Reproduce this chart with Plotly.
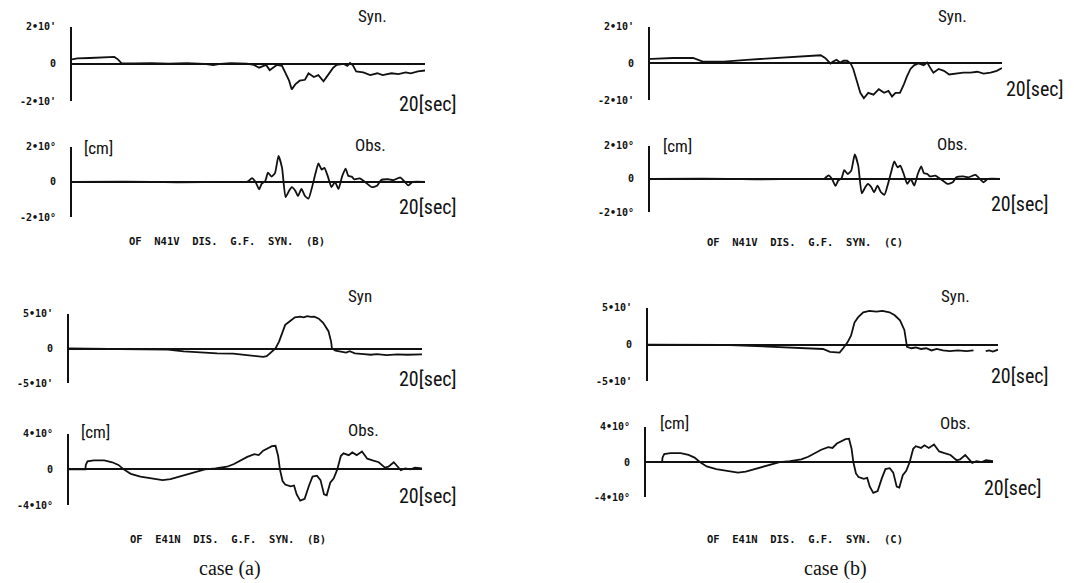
import plotly.graph_objects as go

# ---------------- data ----------------
# time axis: 0 .. 20 sec
# N41V synthetic, case (a)
syn_n41v_a_t = [0, 0.3, 1.0, 1.8, 2.4, 2.6, 2.8, 3.5, 4.5, 5.5, 6.5, 7.5, 8.0, 8.4, 9.0, 9.9,
                10.3, 10.6, 10.85, 11.0, 11.2, 11.4, 11.6, 11.9, 12.1, 12.3, 12.45, 12.65, 12.9, 13.2,
                13.4, 13.7, 13.96, 14.25, 14.5, 14.8, 15.0, 15.4, 15.6, 15.75, 15.9, 16.1, 16.5, 16.9,
                17.3, 17.6, 18.1, 18.5, 18.9, 19.2, 19.6, 20.0]
syn_n41v_a_y = [0.25, 0.3, 0.32, 0.35, 0.38, 0.25, 0.05, 0.03, 0.05, 0.02, 0.04, 0.0, -0.06, 0.0, 0.05, 0.02,
                -0.05, -0.2, -0.1, -0.05, -0.33, -0.2, -0.05, -0.1, -0.5, -0.9, -1.38, -1.1, -0.9, -0.85,
                -0.5, -0.7, -0.6, -0.93, -0.6, -0.2, -0.05, 0.0, -0.1, 0.05, -0.05, -0.4, -0.45, -0.6,
                -0.5, -0.6, -0.5, -0.55, -0.45, -0.5, -0.4, -0.35]

# N41V synthetic, case (b)
syn_n41v_b_t = [0, 0.1, 1.3, 2.45, 3.0, 4.2, 5.5, 7.0, 8.15, 9.3, 9.7, 9.95, 10.25, 10.4, 10.6, 10.8,
                11.0, 11.2, 11.4, 11.55, 11.75, 11.95, 12.15, 12.4, 12.7, 13.0, 13.3, 13.55, 13.75, 13.95,
                14.2, 14.4, 14.6, 14.8, 15.0, 15.25, 15.55, 15.75, 15.9, 16.1, 16.4, 16.7, 17.0, 17.45,
                17.8, 18.2, 18.6, 18.95, 19.35, 19.7, 20.0]
syn_n41v_b_y = [0.25, 0.25, 0.3, 0.3, 0.1, 0.1, 0.2, 0.3, 0.35, 0.45, 0.45, 0.3, 0.0, 0.1, 0.2, 0.05,
                0.15, 0.15, 0.0, -0.3, -1.0, -1.6, -1.9, -1.6, -1.7, -1.4, -1.6, -1.5, -1.8, -1.6,
                -1.6, -1.2, -0.7, -0.3, -0.1, 0.0, -0.1, 0.05, -0.2, -0.5, -0.3, -0.4, -0.6, -0.55,
                -0.5, -0.5, -0.45, -0.55, -0.5, -0.4, -0.25]

# N41V observed (same record in both cases)
obs_n41v_t = [0, 3, 6, 9, 9.9, 10.0, 10.2, 10.4, 10.6, 10.75, 10.95, 11.1, 11.3, 11.5, 11.7,
              11.9, 12.1, 12.3, 12.45, 12.65, 12.8, 13.0, 13.2, 13.4, 13.6, 13.8, 13.96, 14.15, 14.3,
              14.5, 14.7, 14.9, 15.1, 15.3, 15.5, 15.65, 15.85, 16.0, 16.3, 16.6, 17.0, 17.3, 17.5,
              17.9, 18.2, 18.6, 18.9, 19.05, 19.3, 20.0]
obs_n41v_y = [0, 0.02, -0.02, 0.0, 0.0, 0.05, 0.22, 0.0, -0.42, -0.1, 0.05, 0.53, 0.3, 0.5, 1.48,
              0.8, -0.86, -0.5, -0.3, -0.5, -0.8, -0.4, -0.8, -0.95, -0.3, 0.5, 1.05, 0.7, 0.8,
              0.3, -0.3, 0.0, -0.4, 0.3, 0.76, 0.35, 0.3, 0.15, 0.2, 0.0, -0.3, -0.2, 0.1,
              0.15, 0.1, 0.25, -0.05, -0.2, 0.0, 0.0]

# E41N synthetic, case (a)
syn_e41n_a_t = [0, 2.0, 4.0, 5.6, 6.5, 7.45, 8.4, 9.3, 10.3, 11.0, 11.2, 11.5, 11.7, 11.9, 12.1, 12.25,
                12.55, 12.8, 13.1, 13.3, 13.5, 13.7, 13.9, 14.15, 14.4, 14.7, 14.85, 14.9, 15.1, 15.4,
                15.7, 15.9, 16.2, 16.7, 17.1, 17.45, 18.0, 18.6, 19.15, 20.0]
syn_e41n_a_y = [0, -0.03, -0.08, -0.15, -0.4, -0.6, -0.7, -0.75, -1.0, -1.2, -1.1, -0.5, 0.0, 1.0, 2.5, 3.4,
                4.0, 4.5, 4.6, 4.5, 4.65, 4.55, 4.6, 4.3, 3.7, 2.5, 1.0, 0.0, -0.3, -0.5,
                -0.6, -0.4, -0.7, -0.8, -0.9, -0.8, -0.95, -0.85, -0.9, -0.85]

# E41N synthetic, case (b)  (None = break in the trace)
syn_e41n_b_t = [0, 2.0, 4.3, 6.2, 8.1, 9.5, 10.0, 10.4, 10.95, 11.15, 11.4, 11.6, 11.8, 12.0, 12.3,
                12.65, 13.05, 13.4, 13.8, 14.1, 14.4, 14.65, 14.75, 14.8, 15.05, 15.3, 15.6, 15.9,
                16.2, 16.5, 16.85, 17.25, 17.7, 18.2, 18.6, 18.8, 19.3, 19.5, 19.7, 20.0]
syn_e41n_b_y = [0, 0.0, -0.05, -0.2, -0.4, -0.55, -0.6, -1.0, -1.1, -0.5, 0.3, 1.2, 3.0, 3.7, 4.4,
                4.6, 4.5, 4.6, 4.4, 4.0, 3.3, 2.0, 0.5, -0.3, -0.5, -0.4, -0.6, -0.5,
                -0.8, -0.6, -0.8, -0.9, -0.8, -0.9, -0.8, None, -0.9, -0.8, -0.95, -0.7]

# E41N observed (same record in both cases)
obs_e41n_t = [0, 0.93, 0.95, 1.05, 1.4, 2.0, 2.45, 2.8, 3.1, 3.5, 4.05, 4.6, 5.3, 5.75, 6.3, 6.8,
              7.25, 7.7, 8.3, 8.95, 9.35, 9.7, 10.1, 10.5, 10.75, 11.0, 11.2, 11.5, 11.7, 11.85,
              11.95, 12.1, 12.25, 12.55, 12.75, 12.9, 13.1, 13.35, 13.6, 13.8, 14.05, 14.25, 14.45,
              14.6, 14.8, 15.0, 15.2, 15.4, 15.55, 15.85, 16.05, 16.3, 16.6, 16.9, 17.2, 17.55,
              17.9, 18.1, 18.4, 18.6, 18.8, 19.05, 19.35, 19.6, 20.0]
obs_e41n_y = [0, 0, 0.5, 0.9, 1.0, 1.0, 0.8, 0.5, 0.0, -0.5, -0.8, -1.0, -1.2, -1.1, -0.8, -0.5,
              -0.3, 0.0, 0.1, 0.3, 0.6, 1.0, 1.4, 1.7, 1.6, 2.1, 2.3, 2.6, 2.65, 1.5,
              0.0, -1.3, -1.7, -1.9, -1.8, -2.8, -3.5, -3.3, -1.8, -0.8, -0.7, -1.2, -2.8,
              -2.9, -1.5, -1.0, 0.0, 1.5, 1.8, 1.6, 1.9, 1.6, 2.0, 1.2, 1.0, 0.8,
              0.2, 0.3, 0.8, 0.4, -0.1, 0.1, 0.0, 0.2, 0.1]

# y-axis scale limits and tick labels
n41v_syn_lim = 2
n41v_obs_lim = 2
e41n_syn_lim = 5
e41n_obs_lim = 4
n41v_syn_ticks = ["2•10'", "0", "-2•10'"]
n41v_obs_ticks = ["2•10°", "0", "-2•10°"]
e41n_syn_ticks = ["5•10'", "0", "-5•10'"]
e41n_obs_ticks = ["4•10°", "0", "-4•10°"]

captions = ["OF  N41V  DIS.  G.F.  SYN.  (B)", "OF  N41V  DIS.  G.F.  SYN.  (C)",
            "OF  E41N  DIS.  G.F.  SYN.  (B)", "OF  E41N  DIS.  G.F.  SYN.  (C)"]
case_labels = ["case (a)", "case (b)"]

# ---------------- layout geometry (pixels in a 1074x583 page) ----------------
W, H = 1074, 583
panels = [
    dict(x0=72, x1=425, yt=22, yb=98, t=syn_n41v_a_t, y=syn_n41v_a_y, lim=n41v_syn_lim, spline=False,
         ticks=n41v_syn_ticks, tag="Syn.", tagpos=(372, 11), cm=None, sec=(428, 101)),
    dict(x0=72, x1=425, yt=144, yb=216, t=obs_n41v_t, y=obs_n41v_y, lim=n41v_obs_lim, spline=True,
         ticks=n41v_obs_ticks, tag="Obs.", tagpos=(370, 142), cm=(98, 145), sec=(428, 206)),
    dict(x0=69, x1=422, yt=314, yb=385, t=syn_e41n_a_t, y=syn_e41n_a_y, lim=e41n_syn_lim, spline=False,
         ticks=e41n_syn_ticks, tag="Syn", tagpos=(360, 296), cm=None, sec=(428, 381)),
    dict(x0=69, x1=422, yt=436, yb=509, t=obs_e41n_t, y=obs_e41n_y, lim=e41n_obs_lim, spline=False,
         ticks=e41n_obs_ticks, tag="Obs.", tagpos=(363, 432), cm=(95, 434), sec=(428, 500)),
    dict(x0=650, x1=1002, yt=22, yb=97, t=syn_n41v_b_t, y=syn_n41v_b_y, lim=n41v_syn_lim, spline=False,
         ticks=n41v_syn_ticks, tag="Syn.", tagpos=(952, 11), cm=None, sec=(1035, 85)),
    dict(x0=650, x1=1000, yt=143, yb=211, t=obs_n41v_t, y=obs_n41v_y, lim=n41v_obs_lim, spline=True,
         ticks=n41v_obs_ticks, tag="Obs.", tagpos=(952, 141), cm=(677, 143), sec=(1020, 202)),
    dict(x0=648, x1=998, yt=308, yb=383, t=syn_e41n_b_t, y=syn_e41n_b_y, lim=e41n_syn_lim, spline=False,
         ticks=e41n_syn_ticks, tag="Syn.", tagpos=(955, 296), cm=None, sec=(1020, 377)),
    dict(x0=646, x1=993, yt=429, yb=501, t=obs_e41n_t, y=obs_e41n_y, lim=e41n_obs_lim, spline=False,
         ticks=e41n_obs_ticks, tag="Obs.", tagpos=(955, 425), cm=(674, 425), sec=(1013, 491)),
]
caption_pos = [(227, 240), (805, 241), (228, 543), (805, 543)]
case_pos = [(230, 573), (835, 573)]

NARROW = "Liberation Sans Narrow, Arial Narrow, Roboto Condensed, Liberation Sans, sans-serif"
MONO = "DejaVu Sans Mono, monospace"

fig = go.Figure()
layout = dict(width=W, height=H, margin=dict(l=0, r=0, t=0, b=0),
              paper_bgcolor="white", plot_bgcolor="rgba(0,0,0,0)", showlegend=False)
annotations = []

def px(x):
    return x / W

def py(y):
    return 1 - y / H

for i, p in enumerate(panels, start=1):
    xa = "x" if i == 1 else f"x{i}"
    ya = "y" if i == 1 else f"y{i}"
    line = dict(color="#111111", width=1.8)
    if p["spline"]:
        line.update(shape="spline", smoothing=0.5)
    fig.add_trace(go.Scatter(x=p["t"], y=p["y"], mode="lines", xaxis=xa, yaxis=ya,
                             line=line, connectgaps=False, hoverinfo="skip"))
    xkey = "xaxis" if i == 1 else f"xaxis{i}"
    ykey = "yaxis" if i == 1 else f"yaxis{i}"
    lim = p["lim"]
    layout[xkey] = dict(domain=[px(p["x0"]), px(p["x1"])], range=[0, 20], anchor=ya,
                        showgrid=False, zeroline=False, showline=False, showticklabels=False,
                        ticks="", fixedrange=True)
    layout[ykey] = dict(domain=[py(p["yb"]), py(p["yt"])], range=[-lim * 1.005, lim * 1.005],
                        anchor=xa, showgrid=False, zeroline=True, zerolinecolor="#111111",
                        zerolinewidth=1.7, showline=True, linecolor="#111111", linewidth=2,
                        ticks="", tickmode="array", tickvals=[lim, 0, -lim],
                        ticktext=["<b>" + s + "</b>" for s in p["ticks"]],
                        tickfont=dict(family=MONO, size=10, color="#111111"),
                        ticklabelstandoff=12, fixedrange=True)
    annotations.append(dict(text=p["tag"], x=px(p["tagpos"][0]), y=py(p["tagpos"][1]),
                            xref="paper", yref="paper", showarrow=False, xanchor="center",
                            yanchor="middle", font=dict(family=NARROW, size=17, color="#111111")))
    annotations.append(dict(text="20[sec]", x=px(p["sec"][0]), y=py(p["sec"][1]),
                            xref="paper", yref="paper", showarrow=False, xanchor="center",
                            yanchor="middle", font=dict(family=NARROW, size=20, color="#111111")))
    if p["cm"]:
        annotations.append(dict(text="[cm]", x=px(p["cm"][0]), y=py(p["cm"][1]),
                                xref="paper", yref="paper", showarrow=False, xanchor="center",
                                yanchor="middle", font=dict(family=NARROW, size=17, color="#111111")))

for txt, (cx, cy) in zip(captions, caption_pos):
    annotations.append(dict(text="<b>" + txt + "</b>", x=px(cx), y=py(cy), xref="paper", yref="paper",
                            showarrow=False, xanchor="center", yanchor="middle",
                            font=dict(family=MONO, size=10.5, color="#111111")))
for txt, (cx, cy) in zip(case_labels, case_pos):
    annotations.append(dict(text=txt, x=px(cx), y=py(cy), xref="paper", yref="paper",
                            showarrow=False, xanchor="center", yanchor="middle",
                            font=dict(family="Liberation Serif, serif", size=20, color="#111111")))

layout["annotations"] = annotations
fig.update_layout(**layout)
fig.write_html("out.html")
